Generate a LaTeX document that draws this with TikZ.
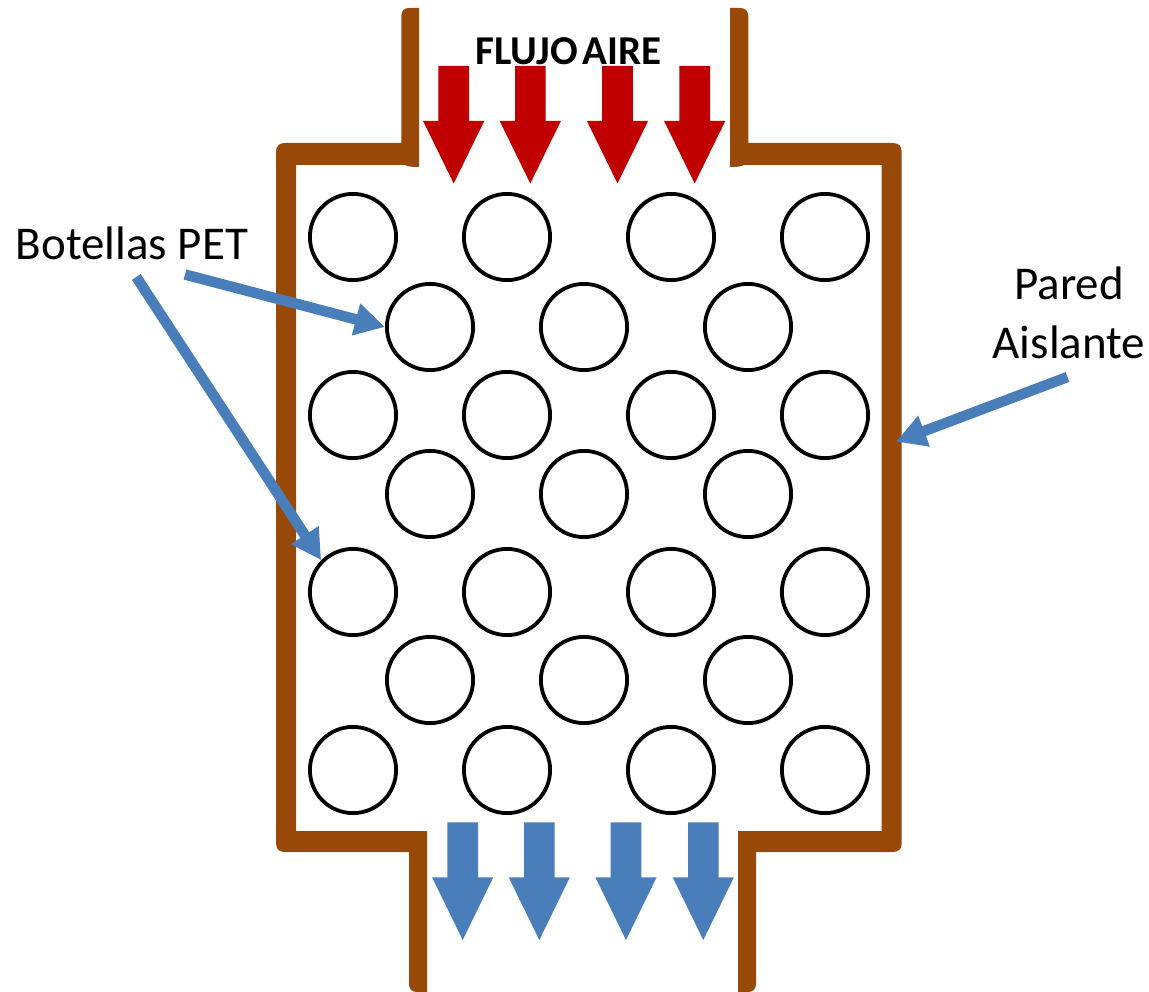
\documentclass[tikz,border=0pt]{standalone}
\usepackage{fontspec}
\setmainfont{Carlito}
\usetikzlibrary{arrows.meta}
\definecolor{wallbrown}{HTML}{984807}
\definecolor{airred}{HTML}{C00000}
\definecolor{airblue}{HTML}{4A7EBB}
\tikzset{
  bottle/.style={circle,draw=black,line width=3.8pt,minimum size=86.2pt,inner sep=0pt,fill=none},
  leader/.style={draw=airblue,line width=10.5pt,-{Triangle[length=30pt,width=31pt]}},
  labeltext/.style={font=\fontsize{47}{59}\selectfont,text=black,align=center,inner sep=0pt},
  flowtext/.style={font=\fontsize{41}{48}\selectfont\bfseries,text=black,inner sep=0pt}
}
\begin{document}
\begin{tikzpicture}[x=1pt,y=-1pt]
\useasboundingbox (0,0) rectangle (1149,992);
\clip (0,0) rectangle (1149,992);
% walls
\fill[wallbrown] (419,8) -- (409,8) .. controls (404,8) and (401.3,11) .. (401.3,16)
  -- (401.3,143) -- (285,143) .. controls (279,143) and (276,146) .. (276,152)
  -- (276,843) .. controls (276,849) and (279,852) .. (285,852)
  -- (409,852) -- (409,984) .. controls (409,989) and (412,992) .. (417,992)
  -- (427,992) -- (427,831) -- (296,831) -- (296,165) -- (405,165)
  .. controls (408,166.5) and (411,167) .. (419,167) -- cycle;
\fill[wallbrown] (730,8) -- (740,8) .. controls (745,8) and (748.3,11) .. (748.3,16)
  -- (748.3,143) -- (892.7,143) .. controls (898.7,143) and (901.7,146) .. (901.7,152)
  -- (901.7,843) .. controls (901.7,849) and (898.7,852) .. (892.7,852)
  -- (756,852) -- (756,984) .. controls (756,989) and (753,992) .. (748,992)
  -- (738,992) -- (738,831) -- (881.7,831) -- (881.7,165) -- (744,165)
  .. controls (741,166.5) and (738,167) .. (730,167) -- cycle;
% bottles
\foreach \n/\cx/\cy in {
  a1/353/237,a2/507/237,a3/671/237,a4/825/237,
  b1/430/327,b2/584/327,b3/748/327,
  c1/353/415,c2/507/415,c3/671/415,c4/825/415,
  d1/430/494,d2/584/494,d3/748/494,
  e1/353/592,e2/507/592,e3/671/592,e4/825/592,
  f1/430/680,f2/584/680,f3/748/680,
  g1/353/770,g2/507/770,g3/671/770,g4/825/770}
  \node[bottle] (\n) at (\cx,\cy) {};
% air arrows
\foreach \cx in {453.7,530.3,617.5,694.7}
  \fill[airred] (\cx-15.3,66) -- (\cx+15.3,66) -- (\cx+15.3,121) -- (\cx+30.6,121)
    -- (\cx,183.5) -- (\cx-30.6,121) -- (\cx-15.3,121) -- cycle;
\foreach \cx in {462.7,539.3,626,703.3}
  \fill[airblue] (\cx-15.3,822.3) -- (\cx+15.3,822.3) -- (\cx+15.3,877.3) -- (\cx+30.6,877.3)
    -- (\cx,940) -- (\cx-30.6,877.3) -- (\cx-15.3,877.3) -- cycle;
% labels
\node[flowtext] (flow) at (568.5,51) {FLUJO\hspace{-0.1em} AIRE};
\node[labeltext] (pet) at (132,243) {Botellas PET};
\node[labeltext] (pared) at (1069,313) {Pared\\Aislante};
% leaders
\coordinate (petA) at (185,274.5);
\coordinate (petB) at (136.3,277);
\coordinate (paredS) at (1067.5,377);
\coordinate (wallT) at (896,441.7);
\draw[leader] (petA) -- (b1.west);
\draw[leader] (petB) -- (e1.135);
\draw[leader] (paredS) -- (wallT);
\end{tikzpicture}
\end{document}
